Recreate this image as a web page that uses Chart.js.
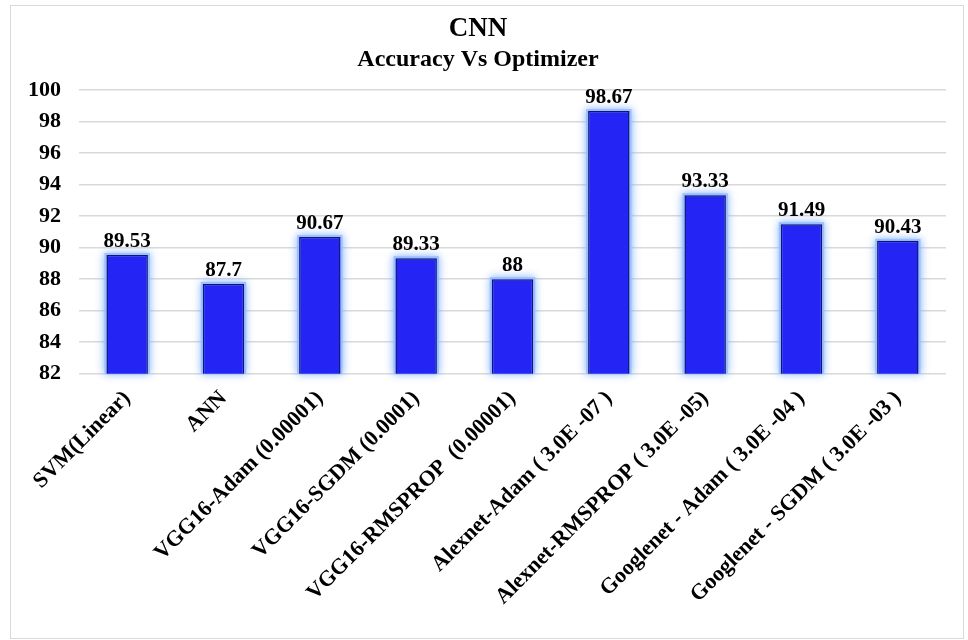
<!DOCTYPE html>
<html>
<head>
<meta charset="utf-8">
<script src="https://cdn.jsdelivr.net/npm/chart.js@4"></script>
<style>
  html, body { margin: 0; padding: 0; background: #fff; }
</style>
</head>
<body>
<canvas id="accChart" width="968" height="640"></canvas>
<script>
// Dados do gráfico
const categorias = [
    'SVM(Linear)',
    'ANN',
    'VGG16-Adam (0.00001)',
    'VGG16-SGDM (0.0001)',
    'VGG16-RMSPROP  (0.00001)',
    'Alexnet-Adam ( 3.0E -07 )',
    'Alexnet-RMSPROP ( 3.0E -05)',
    'Googlenet - Adam ( 3.0E -04 )',
    'Googlenet - SGDM ( 3.0E -03 )'
];
const acuracia = [89.53, 87.7, 90.67, 89.33, 88, 98.67, 93.33, 91.49, 90.43];
const rotulos = ['89.53', '87.7', '90.67', '89.33', '88', '98.67', '93.33', '91.49', '90.43'];

const fonte = "'Liberation Serif', 'Times New Roman', serif";

// moldura cinza + brilho nas barras + rótulos de valor
const estiloPlugin = {
    id: 'estilo',
    beforeDraw(chart) {
        const ctx = chart.ctx;
        ctx.save();
        ctx.strokeStyle = '#d9d9d9';
        ctx.lineWidth = 1;
        ctx.strokeRect(10.5, 5.5, 953, 633);
        ctx.restore();
    },
    beforeDatasetsDraw(chart) {
        // brilho azul claro em volta das barras
        const ctx = chart.ctx;
        const fundo = chart.chartArea.bottom;
        ctx.save();
        ctx.fillStyle = 'rgba(150,190,255,0.9)';
        ctx.shadowColor = 'rgba(120,170,255,1)';
        ctx.shadowBlur = 8;
        chart.getDatasetMeta(0).data.forEach(function(bar) {
            const p = bar.getProps(['x', 'y', 'width', 'base'], true);
            const base = Math.min(p.base, fundo);
            ctx.fillRect(p.x - p.width / 2 - 2, p.y - 2, p.width + 4, base - p.y + 2);
        });
        ctx.restore();
    },
    afterDatasetsDraw(chart) {
        const ctx = chart.ctx;
        ctx.save();
        ctx.font = 'bold 21px ' + fonte;
        ctx.fillStyle = '#000';
        ctx.textAlign = 'center';
        ctx.textBaseline = 'bottom';
        chart.getDatasetMeta(0).data.forEach(function(bar, i) {
            ctx.fillText(rotulos[i], bar.x, bar.y - 3);
        });
        ctx.restore();
    }
};

const accChart = new Chart(document.getElementById('accChart'), {
    type: 'bar',
    data: {
        labels: categorias,
        datasets: [{
            data: acuracia,
            backgroundColor: '#2424f4',
            borderColor: '#12127a',
            borderWidth: 1.5,
            barPercentage: 0.43,
            categoryPercentage: 1
        }]
    },
    options: {
        responsive: false,
        animation: false,
        layout: {
            padding: { left: 10, right: 22, top: 8, bottom: 26 }
        },
        plugins: {
            legend: { display: false },
            tooltip: { enabled: false },
            title: {
                display: true,
                text: 'CNN',
                color: '#000',
                font: { family: fonte, size: 27, weight: 'bold', lineHeight: 1.1 },
                padding: { top: 6, bottom: 3 }
            },
            subtitle: {
                display: true,
                text: 'Accuracy Vs Optimizer',
                color: '#000',
                font: { family: fonte, size: 24, weight: 'bold', lineHeight: 1.1 },
                padding: { top: 0, bottom: 17 }
            }
        },
        scales: {
            x: {
                grid: { display: false },
                border: { display: false },
                ticks: {
                    color: '#000',
                    font: { family: fonte, size: 22, weight: 'bold' },
                    minRotation: 45,
                    maxRotation: 45,
                    autoSkip: false,
                    padding: 4
                }
            },
            y: {
                min: 82,
                max: 100,
                grid: { color: '#d9d9d9', lineWidth: 1.5, drawTicks: false },
                border: { display: false },
                ticks: {
                    stepSize: 2,
                    color: '#000',
                    font: { family: fonte, size: 22, weight: 'bold' },
                    padding: 18
                }
            }
        }
    },
    plugins: [estiloPlugin]
});
</script>
</body>
</html>
